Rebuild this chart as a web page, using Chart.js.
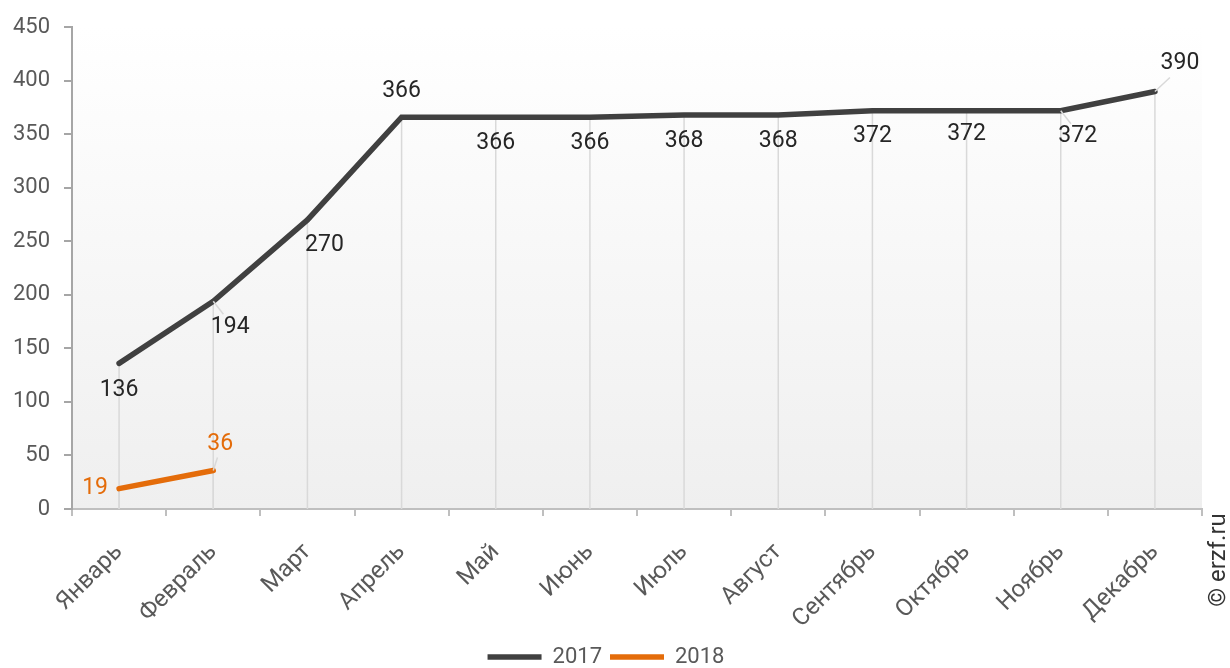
<!DOCTYPE html>
<html>
<head>
<meta charset="utf-8">
<script src="https://cdn.jsdelivr.net/npm/chart.js@4/dist/chart.umd.min.js"></script>
<style>
  html, body { margin: 0; padding: 0; background: #fff; }
  #wrap { width: 1230px; height: 668px; }
</style>
</head>
<body>
<div id="wrap"><canvas id="myChart" width="1230" height="668"></canvas></div>
<script>
const months = ['Январь', 'Февраль', 'Март', 'Апрель', 'Май', 'Июнь', 'Июль', 'Август', 'Сентябрь', 'Октябрь', 'Ноябрь', 'Декабрь'];
const values2017 = [136, 194, 270, 366, 366, 366, 368, 368, 372, 372, 372, 390];
const values2018 = [19, 36];
const yMin = 0;
const yMax = 450;
const yStep = 50;

// where each value label sits relative to its point: [dx, dy, leader line]
const labelPos2017 = [[0, 27, 0], [17, 26, 1], [17, 25, 0], [0, -26, 0], [0, 26, 0], [0, 26, 0],
  [0, 26, 0], [0, 26, 0], [0, 26, 0], [0, 24, 0], [17, 26, 1], [25, -28, 1]];
const labelPos2018 = [[-24, 0, 0], [7, -26, 1]];

const fontFamily = 'Roboto, "Liberation Sans", sans-serif';

const bgPlugin = {
  id: 'bg',
  beforeDraw(chart) {
    const a = chart.chartArea, c = chart.ctx;
    const g = c.createLinearGradient(0, a.top, 0, a.bottom);
    g.addColorStop(0, '#ffffff');
    g.addColorStop(1, '#efefef');
    c.save();
    c.fillStyle = g;
    c.fillRect(a.left, a.top, a.right - a.left, a.bottom - a.top);
    c.restore();
  }
};

const dropLines = {
  id: 'dropLines',
  beforeDatasetsDraw(chart) {
    const c = chart.ctx, y = chart.scales.y;
    c.save();
    c.strokeStyle = '#d9d9d9';
    c.lineWidth = 1.5;
    chart.data.datasets.forEach((ds, i) => {
      chart.getDatasetMeta(i).data.forEach(pt => {
        c.beginPath();
        c.moveTo(pt.x, pt.y);
        c.lineTo(pt.x, y.getPixelForValue(0));
        c.stroke();
      });
    });
    c.restore();
  }
};

const valueLabels = {
  id: 'valueLabels',
  afterDatasetsDraw(chart) {
    const c = chart.ctx;
    c.save();
    c.font = '23px ' + fontFamily;
    c.textAlign = 'center';
    c.textBaseline = 'middle';
    chart.data.datasets.forEach((ds, i) => {
      const pos = ds.labelPos;
      chart.getDatasetMeta(i).data.forEach((pt, j) => {
        const p = pos[j];
        if (p[2]) {
          c.strokeStyle = '#d9d9d9';
          c.lineWidth = 1.5;
          c.beginPath();
          c.moveTo(pt.x, pt.y);
          c.lineTo(pt.x + p[0] * 0.6, pt.y + p[1] * 0.5);
          c.stroke();
        }
        c.fillStyle = ds.labelColor;
        c.fillText(ds.data[j], pt.x + p[0], pt.y + p[1]);
      });
    });
    c.fillStyle = '#333333';
    c.font = '24px ' + fontFamily;
    c.translate(1219, 560);
    c.rotate(-Math.PI / 2);
    c.fillText('© erzf.ru', 0, 0);
    c.restore();
  }
};

new Chart(document.getElementById('myChart'), {
  type: 'line',
  data: {
    labels: months,
    datasets: [{
      label: '2017',
      data: values2017,
      borderColor: '#404040',
      backgroundColor: '#404040',
      borderWidth: 5.5,
      borderCapStyle: 'round',
      pointRadius: 0,
      tension: 0,
      labelPos: labelPos2017,
      labelColor: '#262626'
    }, {
      label: '2018',
      data: values2018,
      borderColor: '#e46c0a',
      backgroundColor: '#e46c0a',
      borderWidth: 5.5,
      borderCapStyle: 'round',
      pointRadius: 0,
      tension: 0,
      labelPos: labelPos2018,
      labelColor: '#e46c0a'
    }]
  },
  options: {
    responsive: false,
    animation: false,
    layout: { padding: { left: 10, right: 28, top: 12, bottom: -10 } },
    scales: {
      x: {
        offset: true,
        afterFit(scale) { scale.height = 129; },
        grid: { offset: true, drawOnChartArea: false, tickLength: 7, color: '#bfbfbf', lineWidth: 2 },
        border: { display: true, color: '#bfbfbf', width: 2 },
        ticks: {
          color: '#595959',
          font: { family: fontFamily, size: 24 },
          minRotation: 45,
          maxRotation: 45,
          padding: 22
        }
      },
      y: {
        min: yMin,
        max: yMax,
        afterFit(scale) { scale.width = 62; },
        grid: { drawOnChartArea: false, tickLength: 8, color: '#a6a6a6', lineWidth: 2 },
        border: { display: true, color: '#a6a6a6', width: 2 },
        ticks: {
          stepSize: yStep,
          color: '#595959',
          font: { family: fontFamily, size: 22 },
          padding: 14
        }
      }
    },
    plugins: {
      legend: {
        position: 'bottom',
        labels: {
          usePointStyle: true,
          pointStyleWidth: 54,
          pointStyle: 'line',
          color: '#595959',
          font: { family: fontFamily, size: 22 },
          padding: 8
        }
      },
      tooltip: { enabled: false }
    }
  },
  plugins: [bgPlugin, dropLines, valueLabels]
});
</script>
</body>
</html>
